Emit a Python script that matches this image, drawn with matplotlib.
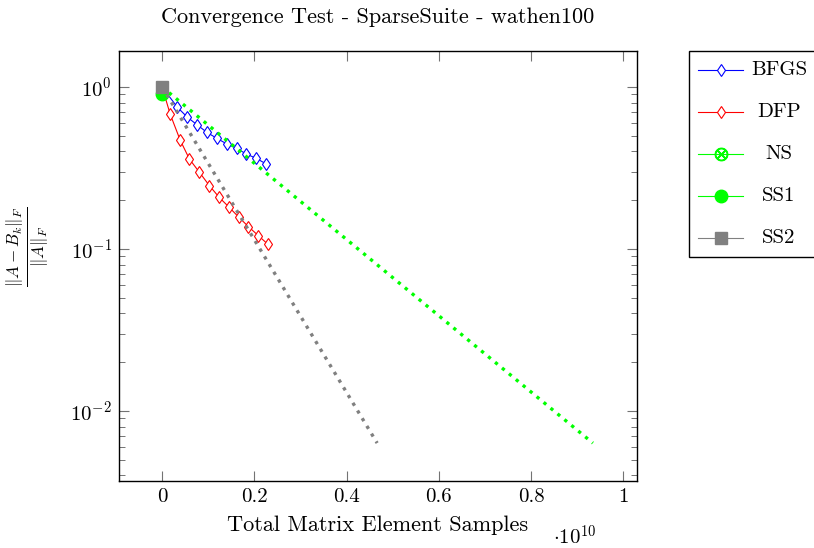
import matplotlib
matplotlib.use("Agg")
import matplotlib.pyplot as plt
from matplotlib.lines import Line2D
from matplotlib.patches import Rectangle
from matplotlib.ticker import FuncFormatter, FixedLocator

plt.rcParams["font.family"] = "serif"
plt.rcParams["font.serif"] = ["cmr10", "DejaVu Serif"]
plt.rcParams["mathtext.fontset"] = "cm"
plt.rcParams["axes.formatter.use_mathtext"] = True

# relative Frobenius error vs. number of sampled matrix entries
bfgs_x = [0, 3.32e8, 5.49e8, 7.66e8, 9.70e8, 1.187e9, 1.403e9, 1.620e9, 1.822e9, 2.039e9, 2.249e9]
bfgs_y = [1.0, 0.749, 0.650, 0.582, 0.525, 0.482, 0.445, 0.418, 0.386, 0.363, 0.336]

dfp_x = [0, 1.74e8, 3.90e8, 5.92e8, 8.09e8, 1.026e9, 1.236e9, 1.453e9, 1.664e9, 1.872e9, 2.089e9, 2.293e9]
dfp_y = [1.0, 0.681, 0.471, 0.359, 0.2975, 0.246, 0.2086, 0.181, 0.157, 0.1374, 0.1208, 0.107]

ns_x = [0, 9.343e9]
ns_y = [1.0, 0.00634]

ss1_x = [0]
ss1_y = [0.905]

ss2_x = [0, 4.664e9]
ss2_y = [1.0, 0.00634]

labels = ["BFGS", "DFP", "NS", "SS1", "SS2"]

GREEN = "#00ff00"
GRAY = "#808080"
FS = 15
W, H = 814, 548

fig = plt.figure(figsize=(W / 100, H / 100), dpi=100)
ax = fig.add_axes([119 / W, 1 - 481 / H, (637 - 119) / W, (481 - 51) / H])

ax.plot(bfgs_x, bfgs_y, color="blue", lw=0.8, marker="d", ms=6.5,
        mfc="white", mec="blue", mew=0.8)
ax.plot(dfp_x, dfp_y, color="red", lw=0.8, marker="d", ms=6.5,
        mfc="white", mec="red", mew=0.8)
ax.plot(ns_x, ns_y, color=GREEN, lw=2.4, linestyle=(0, (1, 1.7)))
ax.plot(ss1_x, ss1_y, linestyle="none", marker="o", ms=9, color=GREEN)
ax.plot(ss2_x, ss2_y, color=GRAY, lw=2.4, linestyle=(0, (1, 1.7)),
        marker="s", ms=8.5, markevery=[0])

ax.set_yscale("log")
ax.set_xlim(-0.0935e10, 1.03e10)
ax.set_ylim(10 ** -2.432, 10 ** 0.222)

ax.xaxis.set_major_locator(FixedLocator([0, 0.2e10, 0.4e10, 0.6e10, 0.8e10, 1.0e10]))
ax.xaxis.set_major_formatter(FuncFormatter(lambda v, p: f"{v / 1e10:g}"))

ax.tick_params(which="both", direction="in", top=True, right=True,
               color="0.45", labelsize=FS)
ax.tick_params(which="major", length=7.5, width=0.8, pad=5)
ax.tick_params(which="minor", length=4, width=0.7)
for s in ax.spines.values():
    s.set_linewidth(1.0)

ax.set_title("Convergence Test - SparseSuite - wathen100", fontsize=16, pad=20)
ax.set_xlabel("Total Matrix Element Samples", fontsize=16, labelpad=7)
fig.text(28 / W, 1 - 247 / H, r"$\frac{\|A-B_k\|_F}{\|A\|_F}$", fontsize=17.5,
         rotation=90, ha="center", va="center")
ax.text(0.88, -0.13, r"$\cdot 10^{10}$", transform=ax.transAxes,
        fontsize=FS, ha="center", va="center")

# legend box drawn by hand so the labels sit centred in their column
handles = [
    dict(color="blue", marker="d", ms=6.5, mfc="white", mec="blue", mew=0.8),
    dict(color="red", marker="d", ms=6.5, mfc="white", mec="red", mew=0.8),
    dict(color=GREEN, marker=r"$\otimes$", ms=9),
    dict(color=GREEN, marker="o", ms=9),
    dict(color=GRAY, marker="s", ms=8),
]
fig.patches.append(Rectangle((689 / W, 1 - 257 / H), 140 / W, 206 / H,
                             transform=fig.transFigure, facecolor="white",
                             edgecolor="black", lw=1.0))
for i, (lab, st) in enumerate(zip(labels, handles)):
    yy = 1 - (70 + 42 * i) / H
    fig.add_artist(Line2D([698 / W, 743 / W], [yy, yy], lw=0.8,
                          transform=fig.transFigure, color=st["color"]))
    fig.add_artist(Line2D([721 / W], [yy], transform=fig.transFigure,
                          linestyle="none", **st))
    fig.text(779 / W, yy, lab, fontsize=FS, ha="center", va="center")

fig.savefig("out.png", dpi=100)
